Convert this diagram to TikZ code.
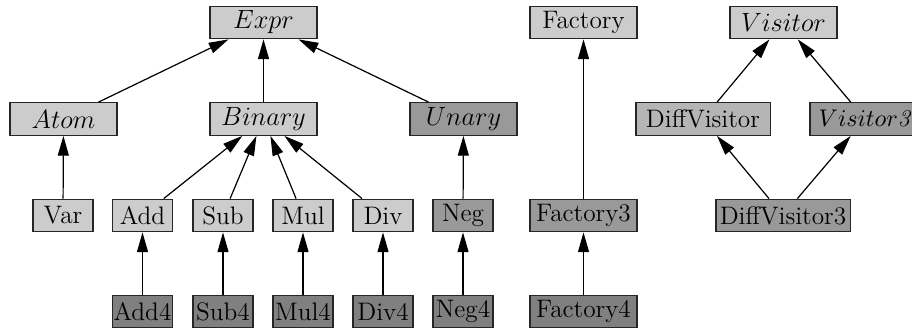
\documentclass[tikz,border=0pt]{standalone}
\usetikzlibrary{arrows.meta}
\definecolor{lg}{HTML}{CCCCCC}
\definecolor{mg}{HTML}{999999}
\definecolor{dg}{HTML}{808080}
\definecolor{vg}{HTML}{B5B5B5}
\begin{document}
\begin{tikzpicture}[x=0.4545pt,y=-0.4545pt,
  box/.style={draw=black!85, line width=0.55pt, inner sep=0pt, minimum height=14.8pt, font=\fontsize{11.5}{13}\selectfont},
  wide/.style={box, minimum width=48.6pt},
  narrow/.style={box, minimum width=27.3pt},
  dvbox/.style={box, minimum width=61pt},
  inh/.style={-{Triangle[length=9pt,width=5pt]}, line width=0.55pt}]
\useasboundingbox (0,0) rectangle (912,329);
% row 1
\node[wide, fill=lg] (expr) at (263.5,22.5) {$Expr$};
\node[wide, fill=lg] (factory) at (583.5,22.5) {Factory};
\node[wide, fill=lg] (visitor) at (783.5,22.5) {$Visitor$};
% row 2
\node[wide, fill=lg] (atom) at (63.5,119) {$Atom$};
\node[wide, fill=lg] (binary) at (263.5,119) {$Binary$};
\node[wide, fill=mg] (unary) at (463.5,119) {$Unary$};
\node[dvbox, fill=vg] (diffvisitor) at (703,119) {DiffVisitor};
\node[box, minimum width=50pt, fill=mg, font=\fontsize{11}{13}\selectfont] (visitor3) at (865,119) {$Visitor$\textit{3}\hspace{9pt}};
% row 3
\node[narrow, fill=lg] (var) at (63,215.5) {Var};
\node[narrow, fill=lg] (add) at (142.5,215.5) {Add};
\node[narrow, fill=lg] (sub) at (223,215.5) {Sub};
\node[narrow, fill=lg] (mul) at (303,215.5) {Mul};
\node[narrow, fill=lg] (div) at (383,215.5) {Div};
\node[narrow, fill=mg] (neg) at (463,215.5) {Neg};
\node[wide, fill=mg] (factory3) at (583.5,215.5) {Factory3};
\node[dvbox, fill=mg] (diffvisitor3) at (783,215.5) {DiffVisitor3};
% row 4
\node[narrow, fill=dg] (add4) at (142.5,311.5) {Add4};
\node[narrow, fill=dg] (sub4) at (223,311.5) {Sub4};
\node[narrow, fill=dg] (mul4) at (303,311.5) {Mul4};
\node[narrow, fill=dg] (div4) at (383,311.5) {Div4};
\node[narrow, fill=dg] (neg4) at (463,311.5) {Neg4};
\node[wide, fill=dg] (factory4) at (583.5,311.5) {Factory4};
% edges
\draw[inh] (atom) -- (expr);
\draw[inh] (binary) -- (expr);
\draw[inh] (unary) -- (expr);
\draw[inh] (var) -- (atom);
\draw[inh] (add) -- (binary);
\draw[inh] (sub) -- (binary);
\draw[inh] (mul) -- (binary);
\draw[inh] (div) -- (binary);
\draw[inh] (neg) -- (unary);
\draw[inh] (add4) -- (add);
\draw[inh] (sub4) -- (sub);
\draw[inh] (mul4) -- (mul);
\draw[inh] (div4) -- (div);
\draw[inh] (neg4) -- (neg);
\draw[inh] (factory3) -- (factory);
\draw[inh] (factory4) -- (factory3);
\draw[inh] (diffvisitor) -- (visitor);
\draw[inh] (visitor3) -- (visitor);
\draw[inh] (diffvisitor3) -- (diffvisitor);
\draw[inh] (diffvisitor3) -- (visitor3);
\end{tikzpicture}
\end{document}
